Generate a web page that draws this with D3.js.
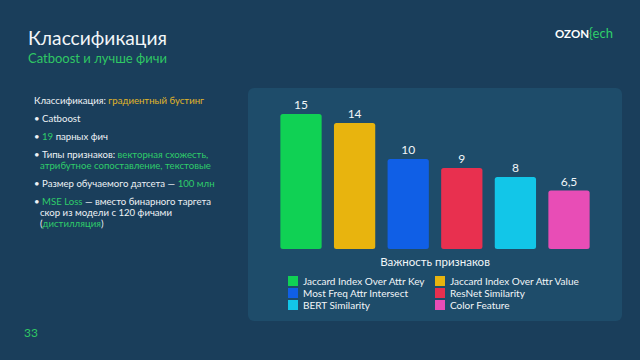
<!DOCTYPE html>
<html><head><meta charset="utf-8">
<script src="https://cdn.jsdelivr.net/npm/d3@7"></script>
<style>
html,body{margin:0;padding:0;background:#1a3e5b;}
svg{display:block;font-family:Lato,"Open Sans",sans-serif;}
</style></head>
<body>
<svg id="c" width="640" height="360"></svg>
<script>
const categories = ["Jaccard Index Over Attr Key","Jaccard Index Over Attr Value","Most Freq Attr Intersect","ResNet Similarity","BERT Similarity","Color Feature"];
const values = [15, 14, 10, 9, 8, 6.5];
const valueLabels = ["15","14","10","9","8","6,5"];
const colors = ["#10d154","#e8b40e","#105fe6","#e8304f","#12c6e8","#e84db6"];
const legendOrder = [0,1,2,3,4,5];

const svg = d3.select("#c");
svg.append("rect").attr("width",640).attr("height",360).attr("fill","#1a3e5b");

// title
svg.append("text").attr("x",28).attr("y",45).attr("fill","#f2f6f8").attr("font-size",19.2).text("Классификация");
svg.append("text").attr("x",28).attr("y",63).attr("fill","#2fc764").attr("font-size",13).text("Catboost и лучше фичи");

// logo
const logo = svg.append("text").attr("x",555).attr("y",38).attr("font-size",11.5).attr("font-weight","bold");
logo.append("tspan").attr("fill","#ffffff").text("OZON");
logo.append("tspan").attr("fill","#2fd06a").attr("font-weight","normal").attr("font-size",13).text("{ech");

// left text
const green = "#2fcc6a", yellow = "#e0b52a", white = "#eef2f5";
const lines = [
  {x:34,y:104,parts:[["Классификация: ",white],["градиентный бустинг",yellow]]},
  {x:34,y:122,parts:[["• ",white],["Catboost",white]]},
  {x:34,y:140,parts:[["• ",white],["19",green],[" парных фич",white]]},
  {x:34,y:158,parts:[["• ",white],["Типы признаков: ",white],["векторная схожесть,",green]]},
  {x:40,y:169,parts:[["атрибутное сопоставление, текстовые",green]]},
  {x:34,y:187,parts:[["• ",white],["Размер обучаемого датсета — ",white],["100 млн",green]]},
  {x:34,y:205,parts:[["• ",white],["MSE Loss",green],[" — вместо бинарного таргета",white]]},
  {x:40,y:216,parts:[["скор из модели с 120 фичами",white]]},
  {x:40,y:227,parts:[["(",white],["дистилляция",green],[")",white]]}
];
lines.forEach(l=>{
  const t = svg.append("text").attr("x",l.x).attr("y",l.y).attr("font-size",9.6);
  l.parts.forEach(p=>t.append("tspan").attr("fill",p[1]).text(p[0]));
});

// panel
svg.append("rect").attr("x",248).attr("y",88).attr("width",374).attr("height",233).attr("rx",6).attr("fill","#1e4c6a");

// chart
const x = d3.scaleBand().domain(categories).range([275,595]).paddingInner(0.23).paddingOuter(0.1);
const y = d3.scaleLinear().domain([0,15]).range([249,114]);

svg.selectAll("rect.bar").data(categories).join("rect").attr("class","bar")
  .attr("x",d=>x(d)).attr("width",x.bandwidth())
  .attr("y",(d,i)=>y(values[i])).attr("height",(d,i)=>y(0)-y(values[i]))
  .attr("rx",2.5).attr("fill",(d,i)=>colors[i]);

svg.selectAll("text.val").data(categories).join("text").attr("class","val")
  .attr("x",d=>x(d)+x.bandwidth()/2).attr("y",(d,i)=>y(values[i])-5)
  .attr("text-anchor","middle").attr("fill","#f2f6f8").attr("font-size",12).text((d,i)=>valueLabels[i]);

svg.append("text").attr("x",435).attr("y",266).attr("text-anchor","middle").attr("fill","#f2f6f8").attr("font-size",11.5).text("Важность признаков");

// legend
const lg = svg.selectAll("g.lg").data(legendOrder).join("g").attr("class","lg")
  .attr("transform",(d,i)=>`translate(${i%2===0?288:435},${276+Math.floor(i/2)*12})`);
lg.append("rect").attr("width",10).attr("height",10).attr("fill",d=>colors[d]);
lg.append("text").attr("x",15).attr("y",9).attr("fill","#f2f6f8").attr("font-size",10).text(d=>categories[d]);

// page number
svg.append("text").attr("x",24).attr("y",337).attr("fill","#2fc764").attr("font-size",12).text("33");
</script>
</body></html>
